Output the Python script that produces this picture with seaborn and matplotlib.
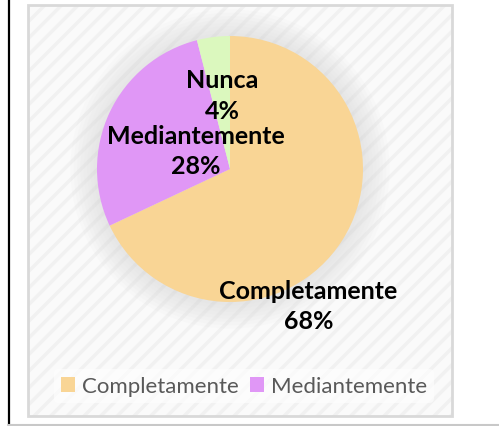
# -*- coding: utf-8 -*-
"""Pie chart: Completamente / Mediantemente / Nunca"""

import matplotlib
matplotlib.use('Agg')
import matplotlib.pyplot as plt
from matplotlib.patches import Rectangle, Circle, Patch
from matplotlib.lines import Line2D
import seaborn as sns

# ========== data ==========
categories = ['Completamente', 'Mediantemente', 'Nunca']
values = [68, 28, 4]
legend_items = ['Completamente', 'Mediantemente']   # Nunca is cut off in the original legend

# ========== style ==========
sns.set_theme(style='white')
plt.rcParams['font.family'] = ['Lato', 'DejaVu Sans']
plt.rcParams['hatch.linewidth'] = 2.5
COLORS = sns.color_palette(['#F9D595', '#E097F6', '#DBF8BE'])

W, H = 499, 427
fig = plt.figure(figsize=(W / 100, H / 100), dpi=100)
fig.patch.set_facecolor('white')

# chart area background (light textured box)
fig.patches.append(Rectangle((28 / W, 1 - 417 / H), (452 - 28) / W, (417 - 6) / H,
                             transform=fig.transFigure, facecolor='#fafafa',
                             edgecolor='#f1f1f1', hatch='//', linewidth=0, zorder=-2))
fig.patches.append(Rectangle((28 / W, 1 - 417 / H), (452 - 28) / W, (417 - 6) / H,
                             transform=fig.transFigure, facecolor='none',
                             edgecolor='#d9d9d9', linewidth=2, zorder=-1))
# outer frame lines
fig.add_artist(Line2D([8.5 / W, 8.5 / W], [1 - 426 / H, 1], color='black', linewidth=1.6))
fig.add_artist(Line2D([8 / W, 1], [1 - 426 / H, 1 - 426 / H], color='#c8c8c8', linewidth=1.5))

# pie axes: centre (230, 170) px, radius 133 px
cx, cy, r = 230, 170, 133
ax = fig.add_axes([(cx - r) / W, (H - cy - r) / H, 2 * r / W, 2 * r / H])
ax.set_zorder(3)
ax.set_facecolor('none')

# soft shadow around the pie
for k in range(8):
    ax.add_patch(Circle((0, 0), 1.0 + 0.025 * (k + 1), facecolor='#9a9a9a',
                        alpha=0.025, edgecolor='none', zorder=0, clip_on=False))

wedges, _ = ax.pie(values, colors=COLORS, startangle=90, counterclock=False,
                   wedgeprops={'linewidth': 0})
for w in wedges:
    w.set_zorder(2)

# data labels (positions in pie-radius units, as placed in the original)
label_pos = [(0.59, -1.025), (-0.26, 0.14), (-0.06, 0.555)]
for name, val, (lx, ly) in zip(categories, values, label_pos):
    ax.text(lx, ly, f'{name}\n{val}%', ha='center', va='center',
            fontsize=18, fontweight='bold', color='black', linespacing=1.4, zorder=5)

ax.set_xlim(-1, 1)
ax.set_ylim(-1, 1)
ax.set_aspect('equal')
ax.axis('off')

# legend
handles = [Patch(facecolor=COLORS[categories.index(n)], edgecolor='none') for n in legend_items]
leg = fig.legend(handles, legend_items, loc='center', bbox_to_anchor=(244 / W, 1 - 387 / H),
                 ncol=2, frameon=True, fontsize=16, handlelength=0.65, handleheight=0.65,
                 handletextpad=0.3, columnspacing=0.5, borderpad=0.3)
leg.get_frame().set_facecolor('white')
leg.get_frame().set_alpha(0.6)
leg.get_frame().set_edgecolor('none')
for t in leg.get_texts():
    t.set_color('#595959')

fig.savefig('out.png', dpi=100)
